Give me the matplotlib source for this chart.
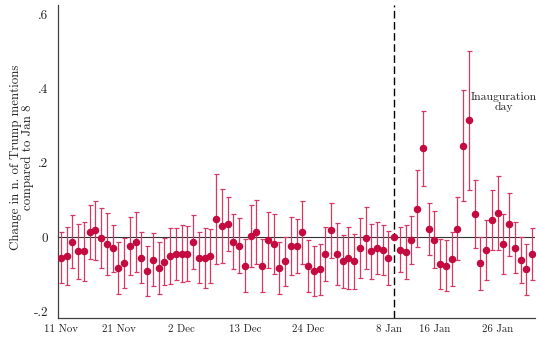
import numpy as np
import matplotlib
matplotlib.use("Agg")
import matplotlib.pyplot as plt

# daily estimates relative to Jan 8 (reference day, index 58)
est = [-0.056, -0.051, -0.013, -0.039, -0.039, 0.013, 0.018, -0.003, -0.019, -0.030,
       -0.083, -0.071, -0.024, -0.013, -0.056, -0.091, -0.061, -0.083, -0.067, -0.051,
       -0.045, -0.045, -0.045, -0.013, -0.056, -0.056, -0.051, 0.049, 0.029, 0.034,
       -0.013, -0.024, -0.077, 0.002, 0.013, -0.077, -0.008, -0.019, -0.083, -0.066,
       -0.024, -0.024, 0.013, -0.077, -0.092, -0.087, -0.045, 0.018, -0.045, -0.066,
       -0.056, -0.066, -0.030, -0.003, -0.039, -0.030, -0.035, -0.056, 0.0, -0.034,
       -0.040, -0.008, 0.076, 0.239, 0.022, -0.007, -0.072, -0.077, -0.060, 0.022,
       0.246, 0.314, 0.061, -0.071, -0.034, 0.045, 0.065, -0.018, 0.034, -0.029,
       -0.061, -0.087, -0.045]
ci = [0.069, 0.079, 0.071, 0.074, 0.080, 0.073, 0.080, 0.080, 0.083, 0.063,
      0.070, 0.067, 0.079, 0.081, 0.069, 0.068, 0.072, 0.070, 0.063, 0.075,
      0.070, 0.077, 0.074, 0.073, 0.069, 0.080, 0.073, 0.121, 0.100, 0.073,
      0.074, 0.074, 0.071, 0.084, 0.086, 0.071, 0.075, 0.081, 0.070, 0.067,
      0.077, 0.072, 0.085, 0.070, 0.068, 0.069, 0.073, 0.074, 0.083, 0.071,
      0.083, 0.073, 0.080, 0.084, 0.075, 0.069, 0.066, 0.073, 0.0, 0.060,
      0.072, 0.064, 0.103, 0.101, 0.070, 0.077, 0.067, 0.068, 0.073, 0.085,
      0.150, 0.187, 0.091, 0.071, 0.081, 0.081, 0.099, 0.081, 0.085, 0.068,
      0.062, 0.069, 0.070]
ref_day = 58
xtick_pos = [0, 10, 21, 32, 43, 57, 65, 76]
xtick_labels = ["11 Nov", "21 Nov", "2 Dec", "13 Dec", "24 Dec", "8 Jan", "16 Jan", "26 Jan"]
ytick_vals = [-0.2, 0, 0.2, 0.4, 0.6]
ytick_labels = ["-.2", "0", ".2", ".4", ".6"]

plt.rcParams["font.family"] = ["cmr10", "DejaVu Serif"]

x = np.arange(len(est))
fig = plt.figure(figsize=(5.39, 3.39), dpi=100)
ax = fig.add_axes([0.1076, 0.062, 0.885, 0.923])

ax.axhline(0, color="#333333", lw=0.8, zorder=1)
ax.axvline(ref_day, color="black", lw=1.0, ls=(0, (5.5, 2.5)), zorder=1)
ax.errorbar(x, est, yerr=ci, fmt="o", color="#c40a3f", ecolor="#d43a64",
            elinewidth=0.9, capsize=1.8, capthick=0.9, markersize=4.4, zorder=3)

ax.text(77.0, 0.362, "Inauguration\nday", ha="center", va="center",
        fontsize=8.4, color="#222222", linespacing=1.0)

ax.set_xlim(-0.52, 82.5)
ax.set_ylim(-0.218, 0.624)
ax.set_xticks(xtick_pos)
ax.set_xticklabels(xtick_labels, fontsize=7.8)
ax.set_yticks(ytick_vals)
ax.set_yticklabels(ytick_labels, fontsize=9.5)
ax.tick_params(axis="x", length=0, pad=4.5, colors="#222222")
ax.tick_params(axis="y", length=0, pad=7, colors="#222222")
for s in ["top", "right"]:
    ax.spines[s].set_visible(False)
for s in ["left", "bottom"]:
    ax.spines[s].set_color("#404040")
    ax.spines[s].set_linewidth(0.9)

fig.text(22 / 539, 1 - 157 / 339, "Change in n. of Trump mentions\ncompared to Jan 8",
         rotation=90, ha="center", va="center", fontsize=9.3, linespacing=1.0,
         color="#222222")

fig.savefig("out.png", dpi=100)
